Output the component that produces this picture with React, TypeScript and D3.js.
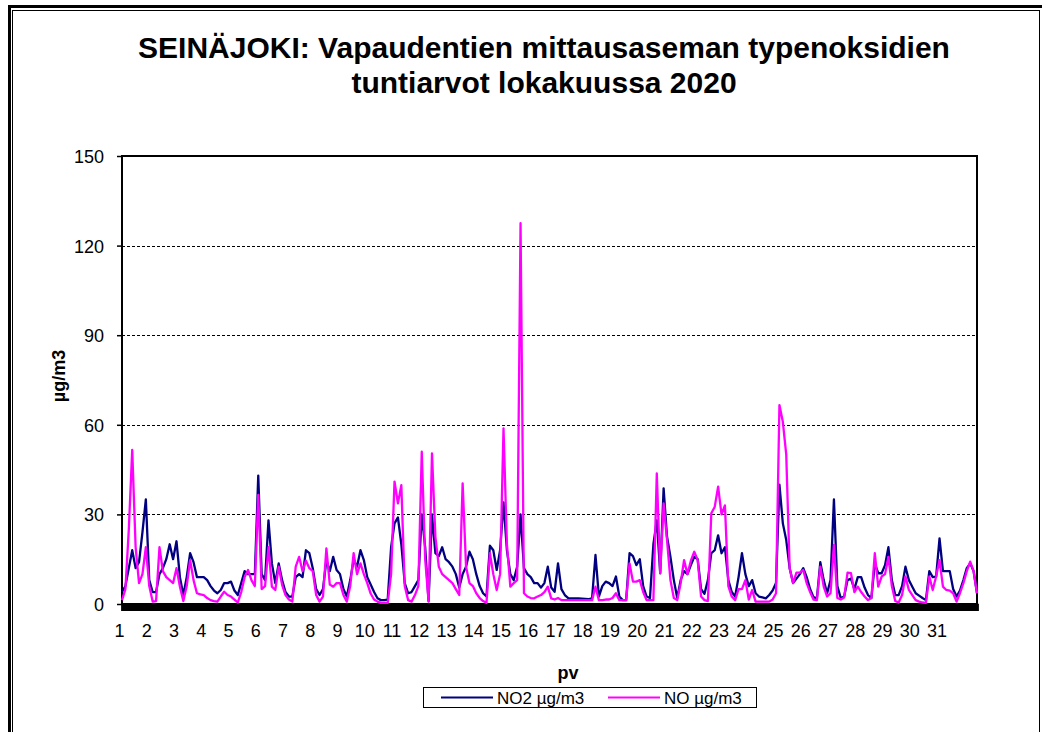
import { useEffect, useRef } from 'react';
import * as d3 from 'd3';

/* Seinäjoki, Vapaudentie station – hourly nitrogen oxides, October 2020.
   Values every 3 hours (00, 03, 06 ... 21 h). */
const STEP_H = 3;

const TITLE = [
  'SEINÄJOKI: Vapaudentien mittausaseman typenoksidien',
  'tuntiarvot lokakuussa 2020',
];

const DAYS = d3.range(1, 32);
const Y_TICKS = [0, 30, 60, 90, 120, 150];

// NO2 µg/m3
const NO2 = [
  /* 1 */ 4, 6, 12, 18, 12, 14, 24, 35,
  /* 2 */ 8, 4, 4, 10, 12, 15, 20, 15,
  /* 3 */ 21, 9, 3, 9, 17, 14, 9, 9,
  /* 4 */ 9, 8, 6, 4.5, 3.6, 4.7, 7, 7,
  /* 5 */ 7.5, 4.5, 3, 7, 11, 10, 10, 10,
  /* 6 */ 43, 10, 8, 28, 13.6, 7, 13.6, 8,
  /* 7 */ 4, 2.5, 2.5, 9, 10, 9, 18, 17,
  /* 8 */ 12, 5, 3, 5, 14.7, 11, 15.8, 11.4,
  /* 9 */ 10, 5, 2.5, 8, 14.7, 12.5, 18, 14.7,
  /* 10 */ 9, 6.5, 4, 1.9, 1.3, 1.3, 1.5, 19,
  /* 11 */ 27, 29, 20, 7, 3.6, 4, 6, 8,
  /* 12 */ 30, 19, 1, 30, 17, 16, 19, 15,
  /* 13 */ 14, 12.5, 10, 5.5, 10, 12.5, 17.5, 15,
  /* 14 */ 10, 6, 3.6, 2.5, 19.5, 18, 11.4, 18,
  /* 15 */ 34, 18, 10, 8, 12.5, 30, 12, 10,
  /* 16 */ 9, 7, 7, 5.5, 7, 12.5, 5.5, 4.1,
  /* 17 */ 13.6, 5, 3, 2, 1.9, 1.9, 1.9, 1.8,
  /* 18 */ 1.7, 1.6, 2, 16.4, 2.5, 6, 7.5, 7,
  /* 19 */ 6, 9.2, 2.5, 1.3, 1.3, 17, 16, 13,
  /* 20 */ 15, 6, 2.5, 2, 20, 28, 10.3, 38.7,
  /* 21 */ 22.5, 15.8, 8, 2, 8, 11, 10, 13,
  /* 22 */ 15.8, 15, 5, 3.4, 8, 17, 18, 23,
  /* 23 */ 17, 19, 8, 4, 2.5, 9, 17, 10,
  /* 24 */ 6, 8, 3.6, 2.5, 2.2, 1.9, 3, 4.5,
  /* 25 */ 7, 40, 27, 21.4, 12, 7, 8.5, 10,
  /* 26 */ 12, 9, 5, 2.3, 1.9, 14, 8, 3.6,
  /* 27 */ 8, 35, 6, 2, 2.5, 8, 8.5, 5,
  /* 28 */ 9, 9, 5.5, 3, 2, 13.6, 10.3, 10.3,
  /* 29 */ 13, 19, 8, 3, 3, 6, 12.5, 8,
  /* 30 */ 5.8, 3.6, 2.8, 2, 1.3, 11, 9, 9.2,
  /* 31 */ 22, 11, 11, 11, 5, 2.5, 4.5, 8,
  /* + */ 12, 13.6, 11, 3.6,
];

// NO µg/m3
const NO = [
  /* 1 */ 1.3, 5, 25, 51.6, 19, 7, 10, 19,
  /* 2 */ 6, 0.8, 1, 19, 11, 9, 8, 7,
  /* 3 */ 12, 5.8, 1, 6, 14.7, 8, 3.6, 3.2,
  /* 4 */ 3, 2, 1.3, 1, 0.8, 2.5, 4.1, 3,
  /* 5 */ 2.5, 1.5, 0.5, 4, 9, 11.4, 8, 6,
  /* 6 */ 36.5, 5, 6, 19, 5.8, 4.7, 12.5, 6.4,
  /* 7 */ 3, 1.5, 0.8, 12.5, 15.8, 11, 14.5, 12,
  /* 8 */ 11, 3, 0.8, 2.5, 18.6, 6.5, 5.8, 7,
  /* 9 */ 7, 3, 0.8, 6, 17, 10, 13.6, 10,
  /* 10 */ 7, 3.5, 1.5, 0.8, 0.4, 0.4, 0.4, 10,
  /* 11 */ 41, 33.7, 39.8, 6, 1.3, 0.8, 3, 6,
  /* 12 */ 51, 15, 0.8, 50.4, 22.5, 12.5, 10, 9,
  /* 13 */ 8, 7, 5, 3, 40.4, 12.5, 7, 6,
  /* 14 */ 3.6, 2, 1, 0.4, 17, 10, 4.7, 10,
  /* 15 */ 58.8, 20, 5.8, 7, 8, 127.5, 3.6, 2.5,
  /* 16 */ 2, 1.9, 2.5, 3, 4, 5.8, 1.9, 1.5,
  /* 17 */ 2, 1.3, 1.3, 1.3, 1.3, 1.3, 1.3, 1.3,
  /* 18 */ 1.3, 1.3, 1.3, 5.8, 1.3, 1.3, 1.5, 1.5,
  /* 19 */ 2, 3.6, 1.3, 1.3, 1.3, 13.6, 7.5, 7.5,
  /* 20 */ 8, 4, 1.3, 1.3, 1.3, 43.7, 10.3, 33.7,
  /* 21 */ 21.4, 8, 2, 1.3, 6.9, 14.7, 10, 14.5,
  /* 22 */ 17.5, 14.7, 2.5, 1.3, 1, 30.4, 32.5, 39.3,
  /* 23 */ 30, 33, 6, 2.5, 1.3, 5, 5, 8,
  /* 24 */ 1.5, 4.7, 0.8, 0.8, 0.8, 0.8, 0.8, 1.5,
  /* 25 */ 3.6, 66.6, 61, 50, 12, 7, 10.5, 10.5,
  /* 26 */ 11.4, 7, 4, 1.5, 1.3, 12.5, 5.8, 2.5,
  /* 27 */ 3.6, 19.8, 2, 1.5, 2.2, 10.5, 10.3, 4,
  /* 28 */ 5.8, 4, 2.5, 1.3, 2, 17, 5.8, 9.2,
  /* 29 */ 10, 15.8, 6, 1, 0.5, 3, 9.2, 4.7,
  /* 30 */ 3, 1.3, 0.8, 0.5, 0.4, 9.2, 4.7, 9.2,
  /* 31 */ 14.7, 5.8, 4.7, 4.5, 3.6, 0.8, 3.6, 7,
  /* + */ 11, 14.2, 11, 3.6,
];

const SERIES = [
  { name: 'NO2 µg/m3', color: '#000080', values: NO2 },
  { name: 'NO µg/m3', color: '#ff00ff', values: NO },
];

const W = 1042;
const H = 732;
const PLOT = { left: 122, right: 977, top: 156, bottom: 604 };
const FONT = '"Liberation Sans", Arial, sans-serif';

export default function App() {
  const ref = useRef<SVGSVGElement>(null);

  useEffect(() => {
    if (!ref.current) return;
    const svg = d3.select(ref.current);
    svg.selectAll('*').remove();

    const lastHour = (NO2.length - 1) * STEP_H;
    const x = d3.scaleLinear().domain([0, lastHour]).range([PLOT.left, PLOT.right]);
    const y = d3.scaleLinear().domain([0, 150]).range([PLOT.bottom, PLOT.top]);

    svg.append('rect').attr('width', W).attr('height', H).attr('fill', '#fff');

    /* ── double frame ── */
    svg.append('rect').attr('x', 9.5).attr('y', 6.5).attr('width', 1080).attr('height', 800)
      .attr('fill', 'none').attr('stroke', '#000').attr('stroke-width', 3);
    svg.append('rect').attr('x', 12.5).attr('y', 10.5).attr('width', 1027).attr('height', 800)
      .attr('fill', 'none').attr('stroke', '#000').attr('stroke-width', 1);

    /* ── title ── */
    const title = svg.append('text').attr('text-anchor', 'middle').attr('font-family', FONT)
      .attr('font-size', 30).attr('font-weight', 'bold').attr('fill', '#000');
    TITLE.forEach((t, i) => title.append('tspan').attr('x', 544).attr('y', 58 + i * 35).text(t));

    /* ── grid ── */
    svg.append('g').selectAll('line').data(Y_TICKS.filter(v => v > 0 && v < 150)).join('line')
      .attr('x1', PLOT.left).attr('x2', PLOT.right)
      .attr('y1', d => Math.round(y(d)) + 0.5).attr('y2', d => Math.round(y(d)) + 0.5)
      .attr('stroke', '#000').attr('stroke-width', 1).attr('stroke-dasharray', '3,2');

    /* ── y axis ── */
    const yAxis = svg.append('g').attr('transform', `translate(${PLOT.left},0)`)
      .call(d3.axisLeft(y).tickValues(Y_TICKS).tickSize(5).tickPadding(13));
    yAxis.select('.domain').remove();
    yAxis.selectAll('line').attr('stroke', '#000').attr('stroke-width', 1.5);
    yAxis.selectAll('text').attr('font-family', FONT).attr('font-size', 18)
      .attr('fill', '#000').attr('dy', '0.36em');

    /* ── hourly category ticks (the black band) ── */
    const band = svg.append('g').attr('transform', `translate(0,${PLOT.bottom})`)
      .call(d3.axisBottom(x).tickValues(d3.range(0, lastHour + 1)).tickSize(7).tickFormat(() => ''));
    band.selectAll('line').attr('stroke', '#000').attr('stroke-width', 2.6);
    band.select('.domain').attr('stroke', '#000').attr('stroke-width', 2);

    /* ── day labels ── */
    const days = svg.append('g').attr('transform', `translate(-3,${PLOT.bottom})`)
      .call(d3.axisBottom(x).tickValues(DAYS.map(d => (d - 1) * 24)).tickSize(0).tickPadding(20)
        .tickFormat((_, i) => String(DAYS[i])));
    days.select('.domain').remove();
    days.selectAll('text').attr('font-family', FONT).attr('font-size', 18).attr('fill', '#000');

    /* ── plot border ── */
    svg.append('rect').attr('x', PLOT.left).attr('y', PLOT.top)
      .attr('width', PLOT.right - PLOT.left).attr('height', PLOT.bottom - PLOT.top)
      .attr('fill', 'none').attr('stroke', '#000').attr('stroke-width', 2);

    /* ── series ── */
    const line = d3.line<number>().x((_, i) => x(i * STEP_H)).y(v => y(v));
    SERIES.forEach(s => {
      svg.append('path').datum(s.values).attr('d', line)
        .attr('fill', 'none').attr('stroke', s.color).attr('stroke-width', 2.3)
        .attr('stroke-linejoin', 'round');
    });

    /* ── axis titles ── */
    svg.append('text').attr('transform', 'translate(65,376) rotate(-90)')
      .attr('text-anchor', 'middle').attr('font-family', FONT).attr('font-size', 18)
      .attr('font-weight', 'bold').text('µg/m3');
    svg.append('text').attr('x', 568).attr('y', 679)
      .attr('text-anchor', 'middle').attr('font-family', FONT).attr('font-size', 18)
      .attr('font-weight', 'bold').text('pv');

    /* ── legend ── */
    const lg = svg.append('g').attr('font-family', FONT).attr('font-size', 17);
    lg.append('rect').attr('x', 423.5).attr('y', 687.5).attr('width', 333).attr('height', 20)
      .attr('fill', '#fff').attr('stroke', '#000').attr('stroke-width', 1);
    SERIES.forEach((s, i) => {
      const x0 = 441 + i * 167;
      lg.append('line').attr('x1', x0).attr('x2', x0 + 52).attr('y1', 697.5).attr('y2', 697.5)
        .attr('stroke', s.color).attr('stroke-width', 2.2);
      lg.append('text').attr('x', x0 + 56).attr('y', 703.5).attr('fill', '#000').text(s.name);
    });
  }, []);

  return (
    <svg ref={ref} width={W} height={H}
      style={{ position: 'absolute', left: 0, top: 0, display: 'block' }} />
  );
}
